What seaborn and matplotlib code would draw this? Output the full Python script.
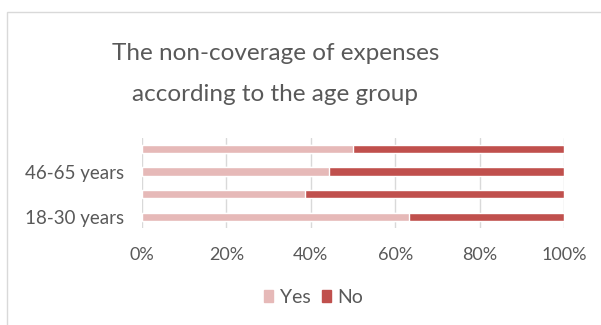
import matplotlib
matplotlib.use("Agg")
import matplotlib.pyplot as plt
import matplotlib.patches as mpatches
import seaborn as sns
import pandas as pd

categories = ["18-30 years", "31-45 years", "46-65 years", "Over 65 years"]
yes_vals = [63.2, 38.7, 44.3, 50.0]
no_vals = [36.8, 61.3, 55.7, 50.0]
shown_labels = ["18-30 years", "46-65 years"]
series = ["Yes", "No"]
xticks = [0, 20, 40, 60, 80, 100]

c_yes = "#E6B9B8"
c_no = "#C0504D"
txt = "#595959"

sns.set_theme(style="white")
plt.rcParams["font.family"] = ["Lato", "DejaVu Sans"]

df = pd.DataFrame({"cat": categories, "Yes": yes_vals, "No": no_vals})
df["total"] = df["Yes"] + df["No"]
order = categories[::-1]

fig = plt.figure(figsize=(6.01, 3.25), dpi=100)
ax = fig.add_axes([0.2363, 0.2985, 0.7021, 0.2778])

sns.barplot(data=df, x="total", y="cat", order=order, color=c_no, width=0.36,
            saturation=1, ax=ax, orient="h", zorder=3)
sns.barplot(data=df, x="Yes", y="cat", order=order, color=c_yes, width=0.36,
            saturation=1, ax=ax, orient="h", zorder=3)

ax.set_xlim(0, 100)
ax.set_ylim(3.5, -0.5)
ax.set_xticks(xticks)
ax.set_xticklabels([f"{t}%" for t in xticks], color=txt, fontsize=13)
ax.set_yticks(range(len(order)))
ax.set_yticklabels([c if c in shown_labels else "" for c in order], color=txt, fontsize=13.5)
ax.tick_params(axis="x", length=0, pad=13.5)
ax.tick_params(axis="y", length=0, pad=13)
ax.set_xlabel("")
ax.set_ylabel("")
ax.grid(axis="x", color="#D9D9D9", linewidth=1, zorder=0)
ax.set_axisbelow(True)
for s in ax.spines.values():
    s.set_visible(False)

fig.text(0.458, 0.772, "The non-coverage of expenses\naccording to the age group",
         ha="center", va="center", fontsize=17.5, color=txt, linespacing=2.15)

handles = [mpatches.Patch(color=c_yes, label="Yes"), mpatches.Patch(color=c_no, label="No")]
fig.legend(handles=handles, loc="center", bbox_to_anchor=(0.522, 0.086), ncol=2,
           frameon=False, fontsize=14, handlelength=0.45, handleheight=0.55,
           handletextpad=0.35, columnspacing=0.6, labelcolor=txt)

# chart border
fig.add_artist(mpatches.Rectangle((7/601, -0.1), 1.0, 1 - 12/325 + 0.1,
                                  transform=fig.transFigure, fill=False,
                                  edgecolor="#D9D9D9", linewidth=1))

fig.savefig("out.png", dpi=100, facecolor="white")
